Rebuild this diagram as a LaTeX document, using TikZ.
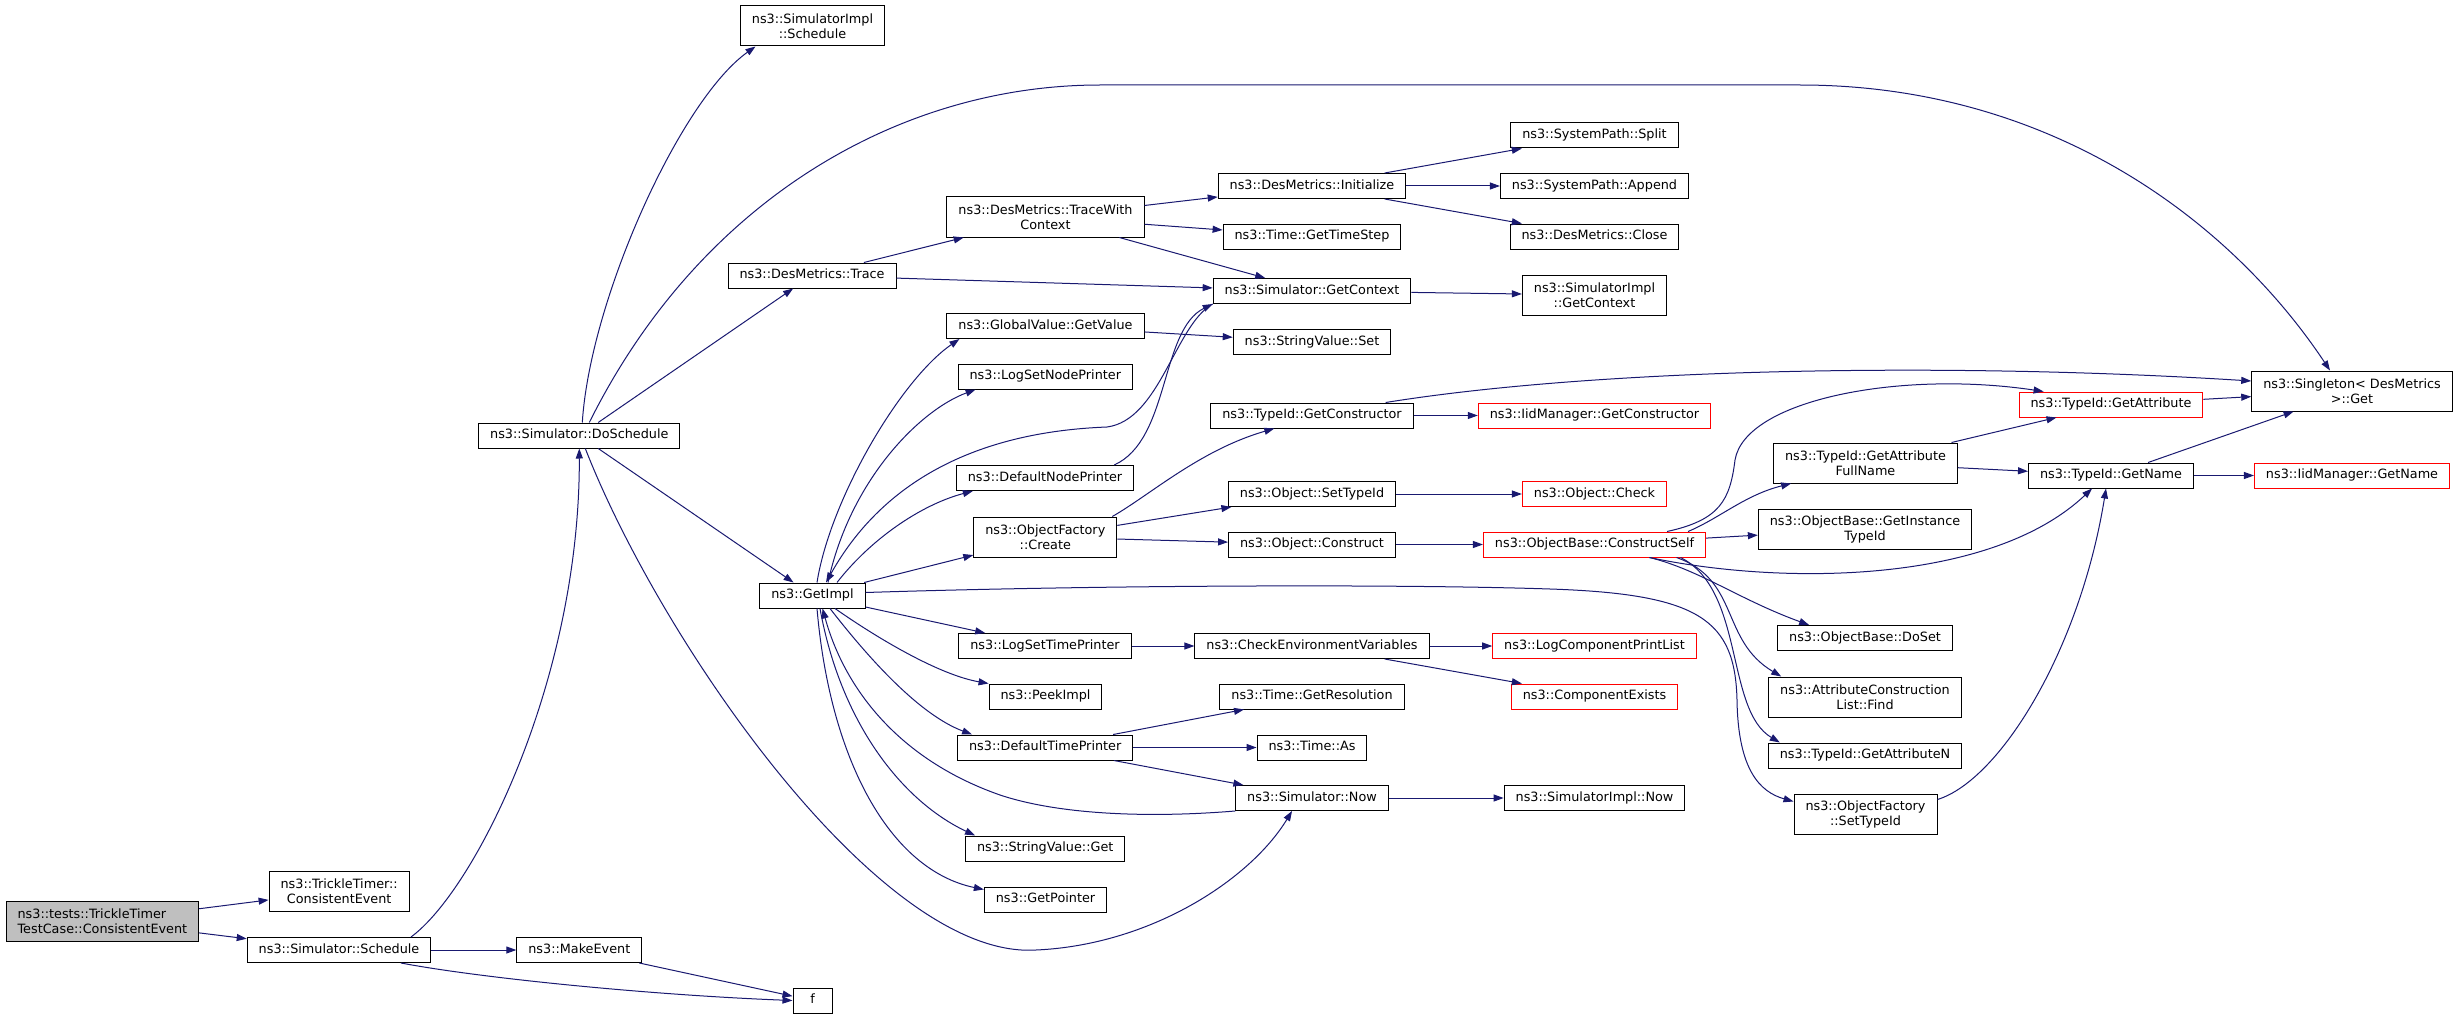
\documentclass[tikz,border=0pt]{standalone}
\usepackage{fontspec}
\setmainfont{DejaVu Sans}
\usetikzlibrary{arrows.meta}
\definecolor{edgeblue}{HTML}{191970}
\definecolor{rootfill}{HTML}{BFBFBF}
\begin{document}
\begin{tikzpicture}[x=1pt,y=-1pt,
  box/.style={draw=black,line width=1pt,fill=white,font=\fontsize{12.8}{15}\selectfont,
    align=center,inner xsep=11.5pt,inner ysep=5.5pt},
  fn/.style={box,text height=9.5pt,text depth=3pt,minimum height=25pt},
  fn2/.style={box,minimum height=40pt},
  miss/.style={fn,draw=red},
  rootfn/.style={fn2,fill=rootfill,align=left},
  call/.style={draw=edgeblue,line width=1pt,-{Triangle[length=10pt,width=7pt]}}]
\useasboundingbox (0,0) rectangle (2459,1019);

\node[rootfn] (root) at (102.4,921) {ns3::tests::TrickleTimer\\TestCase::ConsistentEvent};
\node[fn2] (tte) at (339.2,891) {ns3::TrickleTimer::\\ConsistentEvent};
\node[fn] (sched) at (339,950) {ns3::Simulator::Schedule};
\node[fn] (make) at (579.3,950) {ns3::MakeEvent};
\node[fn,minimum width=39pt] (f) at (812.5,1000.5) {f};
\node[fn] (dosch) at (579.3,435.5) {ns3::Simulator::DoSchedule};
\node[fn2] (implsched) at (812.5,26) {ns3::SimulatorImpl\\::Schedule};
\node[fn] (trace) at (812,275.5) {ns3::DesMetrics::Trace};
\node[fn] (getimpl) at (812.5,595.5) {ns3::GetImpl};

\node[fn2] (twc) at (1045.5,217) {ns3::DesMetrics::TraceWith\\Context};
\node[fn] (getvalue) at (1045.5,326) {ns3::GlobalValue::GetValue};
\node[fn] (lsnp) at (1045.3,376.5) {ns3::LogSetNodePrinter};
\node[fn] (dnp) at (1045,478) {ns3::DefaultNodePrinter};
\node[fn2] (create) at (1045.3,537) {ns3::ObjectFactory\\::Create};
\node[fn] (lstp) at (1045,646) {ns3::LogSetTimePrinter};
\node[fn] (peek) at (1045.5,696.5) {ns3::PeekImpl};
\node[fn] (dtp) at (1045.2,747.5) {ns3::DefaultTimePrinter};
\node[fn] (strget) at (1045.2,848.5) {ns3::StringValue::Get};
\node[fn] (getptr) at (1045.5,899.5) {ns3::GetPointer};

\node[fn] (init) at (1312,186) {ns3::DesMetrics::Initialize};
\node[fn] (gts) at (1312,236.5) {ns3::Time::GetTimeStep};
\node[fn] (getctx) at (1312,291) {ns3::Simulator::GetContext};
\node[fn] (strset) at (1312,342) {ns3::StringValue::Set};
\node[fn] (getctor) at (1312,415.5) {ns3::TypeId::GetConstructor};
\node[fn] (setid) at (1312,494) {ns3::Object::SetTypeId};
\node[fn] (construct) at (1312,544.5) {ns3::Object::Construct};
\node[fn] (checkenv) at (1312,646) {ns3::CheckEnvironmentVariables};
\node[fn] (getres) at (1312,696.5) {ns3::Time::GetResolution};
\node[fn] (timeas) at (1312,747.5) {ns3::Time::As};
\node[fn] (now) at (1312,798) {ns3::Simulator::Now};

\node[fn] (split) at (1594.5,135.5) {ns3::SystemPath::Split};
\node[fn] (append) at (1594.5,186) {ns3::SystemPath::Append};
\node[fn] (close) at (1594.5,236.5) {ns3::DesMetrics::Close};
\node[fn2] (implctx) at (1594.5,295) {ns3::SimulatorImpl\\::GetContext};
\node[miss] (iidctor) at (1594.5,415.5) {ns3::IidManager::GetConstructor};
\node[miss] (check) at (1594.5,494) {ns3::Object::Check};
\node[miss] (cself) at (1594.5,544.5) {ns3::ObjectBase::ConstructSelf};
\node[miss] (lcpl) at (1594.5,646) {ns3::LogComponentPrintList};
\node[miss] (compex) at (1594.5,696.5) {ns3::ComponentExists};
\node[fn] (implnow) at (1594.5,798) {ns3::SimulatorImpl::Now};

\node[fn2] (gafn) at (1865.5,463) {ns3::TypeId::GetAttribute\\FullName};
\node[fn2] (giti) at (1865,529) {ns3::ObjectBase::GetInstance\\TypeId};
\node[fn] (doset) at (1865,638) {ns3::ObjectBase::DoSet};
\node[fn2] (find) at (1865,697) {ns3::AttributeConstruction\\List::Find};
\node[fn] (getattrn) at (1865,755.5) {ns3::TypeId::GetAttributeN};
\node[fn2] (ofsetid) at (1865.5,814) {ns3::ObjectFactory\\::SetTypeId};

\node[miss] (getattr) at (2111,404.5) {ns3::TypeId::GetAttribute};
\node[fn] (getname) at (2111,475.5) {ns3::TypeId::GetName};
\node[fn2] (single) at (2352,391) {ns3::Singleton< DesMetrics\\ >::Get};
\node[miss] (iidname) at (2352,475.5) {ns3::IidManager::GetName};

\draw[call] (root) -- (tte);
\draw[call] (root) -- (sched);
\draw[call] ([xshift=72pt]sched.north) .. controls (475,890) and (580,680) .. (dosch.south);
\draw[call] (sched) -- (make);
\draw[call] ([xshift=62pt]sched.south) .. controls (480,978) and (650,995) .. (f.west);
\draw[call] (make) -- (f);
\draw[call] ([xshift=3pt]dosch.north) .. controls (590,300) and (680,100) .. ([xshift=-57pt]implsched.south);
\draw[call] ([xshift=10pt]dosch.north) .. controls (700,200) and (900,85) .. (1100,85) -- (1800,85)
  .. controls (2050,85) and (2230,220) .. ([xshift=-22pt]single.north);
\draw[call] (dosch) -- (trace);
\draw[call] (dosch) -- (getimpl);
\draw[call] ([xshift=6pt]dosch.south) .. controls (660,640) and (880,960) .. (1036,950)
  .. controls (1150,945) and (1250,880) .. ([xshift=-20pt]now.south);

\draw[call] (trace) -- (twc);
\draw[call] (trace) -- (getctx);
\draw[call] (twc) -- (init);
\draw[call] (twc) -- (gts);
\draw[call] (twc) -- (getctx);
\draw[call] (init) -- (split);
\draw[call] (init) -- (append);
\draw[call] (init) -- (close);
\draw[call] (getctx) -- (implctx);
\draw[call] (getvalue) -- (strset);

\draw[call] ([xshift=4.5pt]getimpl.north) .. controls (830,500) and (900,380) .. ([xshift=13pt]getvalue.south west);
\draw[call] ([xshift=15.5pt]getimpl.north) .. controls (850,480) and (920,410) .. ([xshift=18pt]lsnp.south west);
\draw[call] (getctx.south west) .. controls (1175,325) and (1160,420) .. (1107,427)
  .. controls (1030,430) and (900,450) .. ([xshift=13.5pt]getimpl.north);
\draw[call] ([xshift=-20pt]dnp.north east) .. controls (1170,440) and (1160,330) .. (getctx.south west);
\draw[call] ([xshift=24.5pt]getimpl.north) .. controls (870,540) and (920,505) .. ([xshift=17pt]dnp.south west);
\draw[call] (getimpl) -- (create);
\draw[call] ([yshift=3pt]getimpl.east) .. controls (1100,585) and (1400,584) .. (1550,589)
  .. controls (1700,594) and (1735,620) .. (1737,700)
  .. controls (1738,770) and (1760,792) .. ([yshift=-8pt]ofsetid.north west);
\draw[call] (getimpl) -- (lstp);
\draw[call] ([xshift=22.5pt]getimpl.south) .. controls (880,640) and (940,675) .. (peek.north west);
\draw[call] ([xshift=17.5pt]getimpl.south) .. controls (870,660) and (920,715) .. ([xshift=15pt]dtp.north west);
\draw[call] ([xshift=7.5pt]getimpl.south) .. controls (840,720) and (900,800) .. ([xshift=10pt]strget.north west);
\draw[call] ([xshift=4.5pt]getimpl.south) .. controls (830,760) and (890,870) .. ([yshift=-3pt]getptr.north west);
\draw[call] (now.south west) .. controls (1150,818) and (1060,815) .. (1000,795)
  .. controls (900,760) and (845,690) .. ([xshift=10pt]getimpl.south);

\draw[call] (lstp) -- (checkenv);
\draw[call] (checkenv) -- (lcpl);
\draw[call] (checkenv) -- (compex);
\draw[call] (dtp) -- (getres);
\draw[call] (dtp) -- (timeas);
\draw[call] (dtp) -- (now);
\draw[call] (now) -- (implnow);

\draw[call] ([xshift=-5pt]create.north east) .. controls (1150,495) and (1200,450) .. ([xshift=64pt]getctor.south west);
\draw[call] (create) -- (setid);
\draw[call] (create) -- (construct);
\draw[call] (getctor) -- (iidctor);
\draw[call] ([xshift=-28pt]getctor.north east) .. controls (1600,368) and (1950,362) .. ([yshift=10pt]single.west);
\draw[call] (setid) -- (check);
\draw[call] (construct) -- (cself);

\draw[call] (cself) -- (giti);
\draw[call] ([xshift=-18pt]cself.north east) .. controls (1720,518) and (1745,495) .. ([xshift=18pt]gafn.south west);
\draw[call] ([xshift=-39pt]cself.north east) .. controls (1720,520) and (1730,500) .. (1735,460)
  .. controls (1745,400) and (1900,370) .. ([xshift=25pt]getattr.north west);
\draw[call] ([xshift=55pt]cself.south) .. controls (1780,585) and (1990,585) .. ([xshift=-19pt]getname.south);
\draw[call] ([xshift=55pt]cself.south) .. controls (1700,570) and (1740,600) .. ([xshift=32pt]doset.north west);
\draw[call] ([xshift=82pt]cself.south) .. controls (1740,580) and (1720,640) .. ([xshift=13pt]find.north west);
\draw[call] ([xshift=86pt]cself.south) .. controls (1745,590) and (1725,710) .. ([xshift=12pt]getattrn.north west);
\draw[call] ([yshift=-6pt]ofsetid.north east) .. controls (2000,780) and (2080,650) .. ([xshift=-5pt]getname.south);

\draw[call] (gafn) -- (getattr);
\draw[call] (gafn) -- (getname);
\draw[call] (getattr) -- (single);
\draw[call] (getname) -- (single);
\draw[call] (getname) -- (iidname);
\end{tikzpicture}
\end{document}
